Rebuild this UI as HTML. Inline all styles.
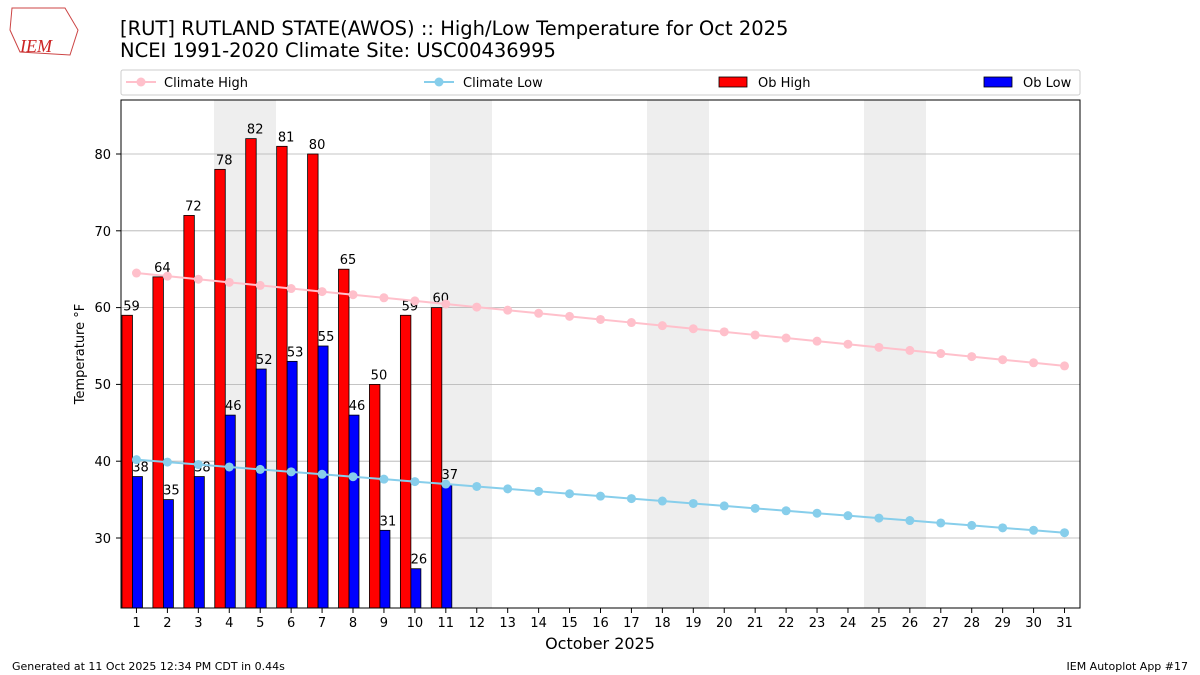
<!DOCTYPE html>
<html><head><meta charset="utf-8"><style>body{margin:0;background:#fff}svg{display:block;font-family:"DejaVu Sans","Liberation Sans",sans-serif}</style></head><body>
<svg width="1200" height="675" xmlns="http://www.w3.org/2000/svg">
<text x="20" y="52" font-family="Liberation Serif" font-style="italic" font-size="18" fill="#c22">IEM</text>
<path d="M12 8 L65 8 L78 30 L70 55 L20 52 L10 30 Z" fill="none" stroke="#c44" stroke-width="1"/>
<text x="120" y="35" font-size="19.5">[RUT] RUTLAND STATE(AWOS) :: High/Low Temperature for Oct 2025</text>
<text x="120" y="57" font-size="19.5">NCEI 1991-2020 Climate Site: USC00436995</text>
<rect x="121" y="70" width="959" height="25" fill="#fff" stroke="#ccc" rx="2"/>
<line x1="126" y1="82" x2="156" y2="82" stroke="pink" stroke-width="2"/><circle cx="141" cy="82" r="4.5" fill="pink"/>
<text x="164" y="87" font-size="13">Climate High</text>
<line x1="424" y1="82" x2="454" y2="82" stroke="skyblue" stroke-width="2"/><circle cx="439" cy="82" r="4.5" fill="skyblue"/>
<text x="463" y="87" font-size="13">Climate Low</text>
<rect x="719" y="77" width="28" height="10" fill="red" stroke="#000" stroke-width="0.8"/>
<text x="758" y="87" font-size="13">Ob High</text>
<rect x="984" y="77" width="28" height="10" fill="blue" stroke="#000" stroke-width="0.8"/>
<text x="1023" y="87" font-size="13">Ob Low</text>
<g fill="#eee"><rect x="214" y="100" width="62" height="508"/><rect x="430" y="100" width="62" height="508"/><rect x="647" y="100" width="62" height="508"/><rect x="864" y="100" width="62" height="508"/></g>
<g stroke="#b0b0b0" stroke-width="0.8"><line x1="121" x2="1080" y1="538" y2="538"/><line x1="121" x2="1080" y1="461.2" y2="461.2"/><line x1="121" x2="1080" y1="384.4" y2="384.4"/><line x1="121" x2="1080" y1="307.6" y2="307.6"/><line x1="121" x2="1080" y1="230.8" y2="230.8"/><line x1="121" x2="1080" y1="154" y2="154"/></g>
<g font-size="13" text-anchor="end"><text x="111" y="543">30</text><text x="111" y="466">40</text><text x="111" y="389">50</text><text x="111" y="312">60</text><text x="111" y="236">70</text><text x="111" y="159">80</text></g>
<g stroke="#000"><line x1="116" x2="121" y1="538" y2="538"/><line x1="116" x2="121" y1="461.2" y2="461.2"/><line x1="116" x2="121" y1="384.4" y2="384.4"/><line x1="116" x2="121" y1="307.6" y2="307.6"/><line x1="116" x2="121" y1="230.8" y2="230.8"/><line x1="116" x2="121" y1="154" y2="154"/></g>
<text transform="translate(84 354) rotate(-90)" font-size="13" text-anchor="middle">Temperature °F</text>
<g id="bars"></g>
<g id="lines"></g>
<g id="xt" font-size="13" text-anchor="middle"></g>
<rect x="121" y="100" width="959" height="508" fill="none" stroke="#000" stroke-width="1"/>
<text x="600" y="649" font-size="16" text-anchor="middle">October 2025</text>
<text x="12" y="670" font-size="11">Generated at 11 Oct 2025 12:34 PM CDT in 0.44s</text>
<text x="1188" y="670" font-size="11" text-anchor="end">IEM Autoplot App #17</text>
</svg>
<script>
const ns="http://www.w3.org/2000/svg";
const X=d=>121+(d-0.5)*30.935, Y=v=>538-(v-30)*7.68;
function el(p,t,a,tx){const e=document.createElementNS(ns,t);for(const k in a)e.setAttribute(k,a[k]);if(tx!=null)e.textContent=tx;document.getElementById(p).appendChild(e);}
const hi=[59,64,72,78,82,81,80,65,50,59,60],lo=[38,35,38,46,52,53,55,46,31,26,37];
hi.forEach((h,i)=>{const c=X(i+1);
el("bars","rect",{x:c-14.5,y:Y(h),width:10.5,height:608-Y(h),fill:"red",stroke:"#000","stroke-width":0.8});
el("bars","rect",{x:c-4,y:Y(lo[i]),width:10,height:608-Y(lo[i]),fill:"blue",stroke:"#000","stroke-width":0.8});
el("bars","text",{x:c-5,y:Y(h)-5,"font-size":13,"text-anchor":"middle"},h);
el("bars","text",{x:c+4,y:Y(lo[i])-5,"font-size":13,"text-anchor":"middle"},lo[i]);});
let ph="",pl="";
for(let d=1;d<=31;d++){const h=64.5-(d-1)*0.403,l=40.2-(d-1)*0.317;ph+=X(d)+","+Y(h)+" ";pl+=X(d)+","+Y(l)+" ";
el("xt","text",{x:X(d),y:627},d);el("xt","line",{x1:X(d),x2:X(d),y1:608,y2:613,stroke:"#000"});}
el("lines","polyline",{points:ph,fill:"none",stroke:"pink","stroke-width":2});
el("lines","polyline",{points:pl,fill:"none",stroke:"skyblue","stroke-width":2});
for(let d=1;d<=31;d++){el("lines","circle",{cx:X(d),cy:Y(64.5-(d-1)*0.403),r:4.5,fill:"pink"});el("lines","circle",{cx:X(d),cy:Y(40.2-(d-1)*0.317),r:4.5,fill:"skyblue"});}
</script>
</body></html>
